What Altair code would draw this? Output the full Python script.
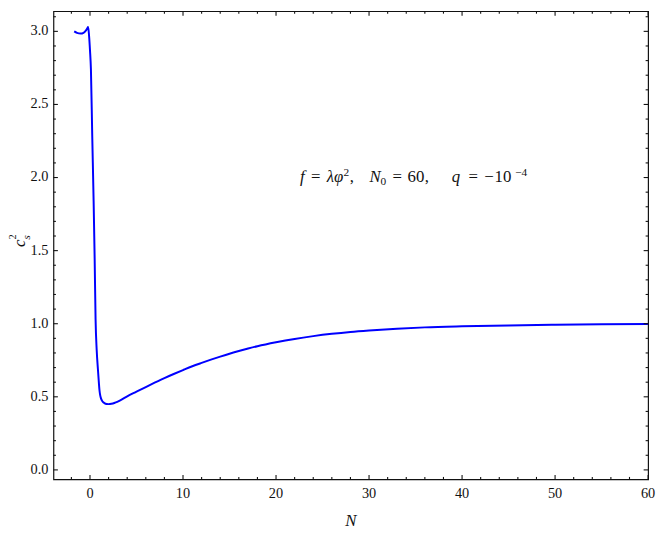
import altair as alt
import pandas as pd

# ---- data ----
N_vals = [-1.7, -1.4, -1.0, -0.7, -0.45, -0.3, -0.2, -0.1, 0.0, 0.1, 0.24, 0.39, 0.5,
          0.6, 0.72, 0.85, 0.95, 1.02, 1.1, 1.2, 1.35, 1.55, 1.8, 2.0, 2.3, 2.7, 3.2,
          4.0, 5.0, 6.0, 7.0, 8.0, 9.0, 10.0, 11.0, 12.0, 13.0, 14.0, 15.0, 16.0, 17.0,
          18.0, 20.0, 22.0, 24.0, 26.0, 28.0, 30.0, 33.0, 36.0, 40.0, 45.0, 50.0, 55.0,
          60.0]
cs2_vals = [3.0, 2.99, 2.985, 2.99, 3.005, 3.02, 3.03, 2.97, 2.87, 2.74, 2.29, 1.84, 1.45,
            1.03, 0.82, 0.69, 0.6, 0.545, 0.51, 0.486, 0.468, 0.457, 0.451, 0.45, 0.452,
            0.46, 0.474, 0.503, 0.535, 0.567, 0.598, 0.628, 0.656, 0.683, 0.709, 0.732,
            0.754, 0.775, 0.795, 0.813, 0.83, 0.846, 0.873, 0.896, 0.915, 0.931, 0.944,
            0.954, 0.966, 0.975, 0.982, 0.988, 0.993, 0.996, 0.998]
x_major = [0, 10, 20, 30, 40, 50, 60]
x_minor = [-2, 2, 4, 6, 8, 12, 14, 16, 18, 22, 24, 26, 28, 32, 34, 36, 38,
           42, 44, 46, 48, 52, 54, 56, 58]
y_major = [0.0, 0.5, 1.0, 1.5, 2.0, 2.5, 3.0]
y_minor = [0.1, 0.2, 0.3, 0.4, 0.6, 0.7, 0.8, 0.9, 1.1, 1.2, 1.3, 1.4, 1.6, 1.7, 1.8,
           1.9, 2.1, 2.2, 2.3, 2.4, 2.6, 2.7, 2.8, 2.9, 3.1]
x_domain = [-3.93, 60]
y_domain = [-0.065, 3.138]

df = pd.DataFrame({"N": N_vals, "cs2": cs2_vals})
xmaj = pd.DataFrame({"v": x_major})
xmin = pd.DataFrame({"v": x_minor})
ymaj = pd.DataFrame({"v": y_major})
ymin = pd.DataFrame({"v": y_minor})
xlab = pd.DataFrame({"lx": x_major})
ylab = pd.DataFrame({"ly": y_major})

W, H = 602, 474
FONT = "Liberation Serif, Tinos, Times New Roman, DejaVu Serif, serif"
INK = "#111111"
TXT = "#111111"
MAJ, MIN = 4.5, 2.5
LBL = 14.5

xs = alt.Scale(domain=x_domain, nice=False, zero=False)
ys = alt.Scale(domain=y_domain, nice=False, zero=False)

line = alt.Chart(df).mark_line(color="#0000ff", strokeWidth=2, interpolate="monotone").encode(
    x=alt.X("N:Q", scale=xs, axis=None),
    y=alt.Y("cs2:Q", scale=ys, axis=None),
)


def xticks(d, length):
    bottom = alt.Chart(d).mark_rule(color=INK, strokeWidth=1.1).encode(
        x=alt.X("v:Q", scale=xs, axis=None), y=alt.value(H), y2=alt.value(H - length))
    top = alt.Chart(d).mark_rule(color=INK, strokeWidth=1.1).encode(
        x=alt.X("v:Q", scale=xs, axis=None), y=alt.value(0), y2=alt.value(length))
    return [bottom, top]


def yticks(d, length):
    left = alt.Chart(d).mark_rule(color=INK, strokeWidth=1.1).encode(
        y=alt.Y("v:Q", scale=ys, axis=None), x=alt.value(0), x2=alt.value(length))
    right = alt.Chart(d).mark_rule(color=INK, strokeWidth=1.1).encode(
        y=alt.Y("v:Q", scale=ys, axis=None), x=alt.value(W), x2=alt.value(W - length))
    return [left, right]


# tick labels drawn through the same scales
xlabels = alt.Chart(xlab).mark_text(font=FONT, fontSize=LBL, color=TXT, align="center",
                                    baseline="top").encode(
    x=alt.X("lx:Q", scale=xs, axis=None), y=alt.value(H + 8),
    text=alt.Text("lx:Q", format="d"))
ylabels = alt.Chart(ylab).mark_text(font=FONT, fontSize=LBL, color=TXT, align="right",
                                    baseline="middle").encode(
    y=alt.Y("ly:Q", scale=ys, axis=None), x=alt.value(-5),
    text=alt.Text("ly:Q", format=".1f"))

one = pd.DataFrame({"k": [0]})


def txt(s, x, y, size, italic=False, angle=None, align="center", baseline="alphabetic"):
    kw = dict(font=FONT, fontSize=size, color=TXT, align=align, baseline=baseline)
    if italic:
        kw["fontStyle"] = "italic"
    if angle is not None:
        kw["angle"] = angle
    return alt.Chart(one).mark_text(**kw).encode(
        x=alt.value(x), y=alt.value(y), text=alt.value(s))


# annotation pieces (text, centre x, baseline y, size, italic) in plot pixels
BY = 173
anno = [
    ("f", 252, BY, 17, True),
    ("=", 265.5, BY, 17, False),
    ("λφ", 285, BY, 17, True),
    ("2", 296.5, BY - 6.5, 11.5, False),
    (",", 302, BY, 17, False),
    ("N", 325.5, BY, 17, True),
    ("0", 334, BY + 3, 11.5, False),
    ("=", 348, BY, 17, False),
    ("60", 367, BY, 17, False),
    (",", 378, BY, 17, False),
    ("q", 407.5, BY, 17, True),
    ("=", 425, BY, 17, False),
    ("−", 441, BY, 17, False),
    ("10", 455, BY, 17, False),
    ("−4", 473.5, BY - 6.5, 11.5, False),
]
layers = ([line] + xticks(xmaj, MAJ) + xticks(xmin, MIN) + yticks(ymaj, MAJ)
          + yticks(ymin, MIN) + [xlabels, ylabels])
for s, x, y, size, it in anno:
    layers.append(txt(s, x, y, size, it))

# axis titles
layers.append(txt("N", 301, 516, 17, True, baseline="middle"))
layers.append(txt("c", -34, 235, 17, True, angle=270, baseline="middle"))
layers.append(txt("2", -41, 228.5, 10.5, False, angle=270, baseline="middle"))
layers.append(txt("s", -26.5, 229, 11, True, angle=270, baseline="middle"))

chart = alt.layer(*layers).properties(
    width=W, height=H,
    autosize=alt.AutoSizeParams(type="none"),
    padding={"left": 46, "top": 0, "right": 8, "bottom": 48},
).configure_view(stroke=INK, strokeWidth=1.2)

chart.save("out.html", embed_options={"renderer": "svg", "actions": False})
